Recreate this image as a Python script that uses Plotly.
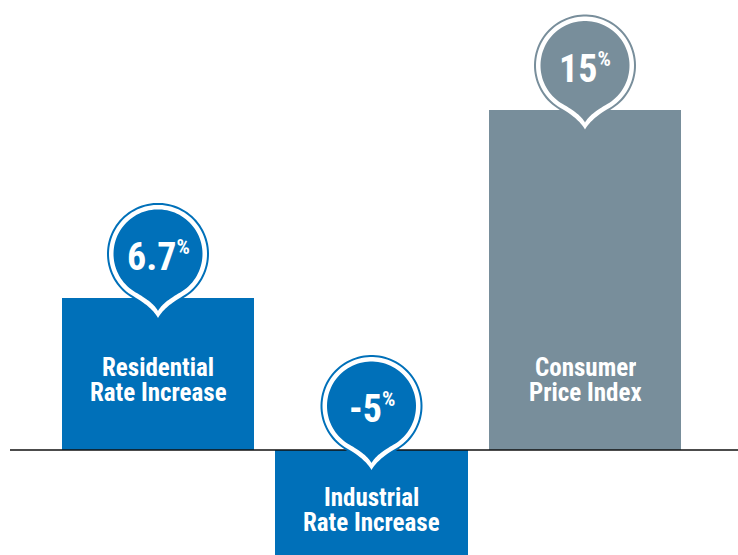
import numpy as np
import plotly.graph_objects as go

# ---- data ----
categories = ["Residential", "Industrial", "CPI"]
values = [6.7, -5, 15]
value_labels = ["6.7", "-5", "15"]
label_line1 = ["Residential", "Industrial", "Consumer"]
label_line2 = ["Rate Increase", "Rate Increase", "Price Index"]
bar_colors = ["#0070B9", "#0070B9", "#788E9B"]

FONT = "Liberation Sans Narrow, Roboto Condensed, Arial Narrow, DejaVu Sans Condensed, sans-serif"

fig = go.Figure()
fig.add_trace(go.Bar(
    x=categories, y=values, width=0.9,
    marker=dict(color=bar_colors, line=dict(width=0)),
    hoverinfo="skip",
))


def pin_path(r, d, cy):
    """Pin outline in pixel offsets (y up). Circle radius r, tip d below centre, centre at cy."""
    def cubic(p0, p1, p2, p3, n=20):
        t = np.linspace(0, 1, n)[:, None]
        return ((1 - t) ** 3) * p0 + 3 * ((1 - t) ** 2) * t * p1 + 3 * (1 - t) * t ** 2 * p2 + t ** 3 * p3
    tip = np.array([0.0, -d])
    a0 = np.deg2rad(240)
    jl = np.array([r * np.cos(a0), r * np.sin(a0)])
    dir_l = np.array([-0.866, 0.5])
    k = 0.34 * r
    left = cubic(tip, tip + np.array([-3.5, 6.0]), jl - k * dir_l, jl)
    ang = np.linspace(np.deg2rad(240), np.deg2rad(-60), 90)
    arc = np.column_stack([r * np.cos(ang), r * np.sin(ang)])
    right = left[::-1].copy()
    right[:, 0] *= -1
    pts = np.vstack([left, arc, right])
    pts[:, 1] += cy
    s = "M " + " L ".join(f"{x:.2f},{y:.2f}" for x, y in pts) + " Z"
    return s


CENTER_UP = 44  # pixel offset of bubble centre above anchor
shapes = [
    dict(type="line", xref="paper", yref="y", x0=10 / 738, x1=1, y0=0, y1=0,
         line=dict(color="#111111", width=1.5), layer="above"),
]
annotations = []
for cat, v, lab, c, l1, l2 in zip(categories, values, value_labels, bar_colors, label_line1, label_line2):
    anchor = max(v, 0)
    for r, d, fill in [(51, 66, c), (49, 64, "white"), (44.5, 57, c)]:
        shapes.append(dict(
            type="path", xref="x", yref="y", xsizemode="pixel", ysizemode="pixel",
            xanchor=cat, yanchor=anchor, path=pin_path(r, d, CENTER_UP),
            fillcolor=fill, line=dict(width=0), layer="above",
        ))
    annotations.append(dict(
        x=cat, y=anchor, xref="x", yref="y", yshift=CENTER_UP - 3, showarrow=False,
        text=f"{lab}<sup><span style='font-size:21px'>%</span></sup>",
        font=dict(family=FONT, size=38, color="white", weight="bold"),
        xanchor="center", yanchor="middle",
    ))
    if v >= 0:
        s1, s2 = 83, 58
    else:
        s1, s2 = -47, -72
    for txt, sh in [(l1, s1), (l2, s2)]:
        annotations.append(dict(
            x=cat, y=0, xref="x", yref="y", yshift=sh, showarrow=False, text=txt,
            font=dict(family=FONT, size=25, color="white", weight="bold"),
            xanchor="center", yanchor="middle", height=25,
        ))

px_per_unit = 22.7
fig.update_layout(
    width=738, height=555, autosize=False,
    margin=dict(l=0, r=0, t=0, b=0),
    plot_bgcolor="white", paper_bgcolor="white",
    showlegend=False, bargap=0,
    xaxis=dict(type="category", range=[-158 / 213.5, (738 - 158) / 213.5], visible=False, fixedrange=True),
    yaxis=dict(range=[-(555 - 450) / px_per_unit, 450 / px_per_unit], visible=False, fixedrange=True),
    shapes=shapes, annotations=annotations,
)

fig.write_html(
    "out.html",
    config={"displayModeBar": False},
    post_script="document.body.style.margin='0';document.body.style.overflow='hidden';",
)
